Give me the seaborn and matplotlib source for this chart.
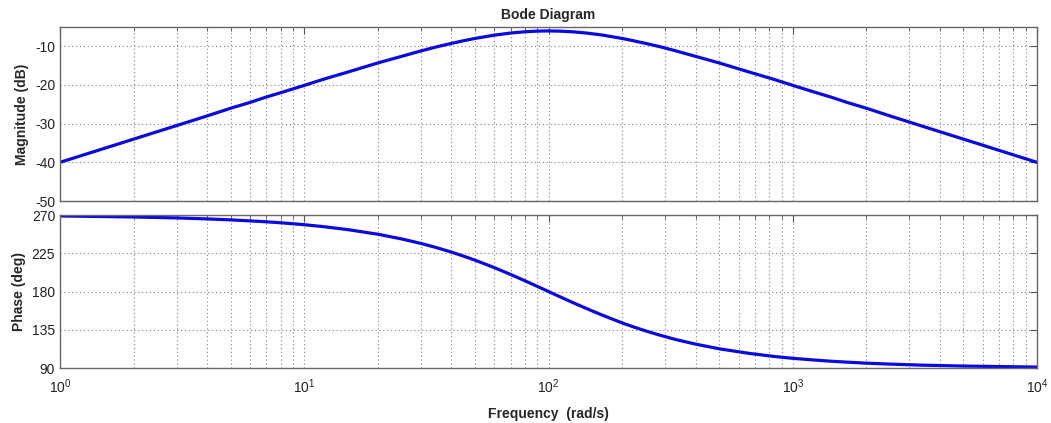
import numpy as np
import pandas as pd
import matplotlib
matplotlib.use("Agg")
import matplotlib.pyplot as plt
import matplotlib.ticker as mticker
import seaborn as sns

# values (frequency in rad/s)
freq = [1, 2, 3, 4, 5, 6, 7, 8, 10, 12, 15, 20, 25, 30, 35, 40, 45, 50,
        60, 70, 80, 90, 100, 111, 125, 143, 167, 200, 222, 250, 286, 333,
        400, 500, 667, 833, 1000, 1250, 1429, 1667, 2000, 2500, 3333,
        5000, 10000]
magnitude_db = [-40.0, -34.0, -30.5, -28.0, -26.0, -24.5, -23.1, -22.0,
                -20.1, -18.5, -16.7, -14.3, -12.6, -11.2, -10.1, -9.25,
                -8.54, -7.96, -7.11, -6.56, -6.24, -6.07, -6.02, -6.07,
                -6.24, -6.56, -7.11, -7.96, -8.54, -9.25, -10.1, -11.2,
                -12.6, -14.3, -16.7, -18.5, -20.1, -22.0, -23.1, -24.5,
                -26.0, -28.0, -30.5, -34.0, -40.0]
phase_deg = [268.9, 267.7, 266.6, 265.4, 264.3, 263.1, 262.0, 260.9,
             258.6, 256.3, 252.9, 247.4, 241.9, 236.6, 231.4, 226.4,
             221.5, 216.9, 208.1, 200.0, 192.7, 186.0, 180.0, 174.0,
             167.3, 160.0, 151.9, 143.1, 138.5, 133.6, 128.6, 123.4,
             118.1, 112.6, 107.1, 103.7, 101.4, 99.2, 98.0, 96.9,
             95.7, 94.6, 93.4, 92.3, 91.1]

mag_ticks = [-50, -40, -30, -20, -10]
phase_ticks = [90, 135, 180, 225, 270]

df = pd.DataFrame({"freq": freq, "mag": magnitude_db, "phase": phase_deg})

sns.set_style("white")
plt.rcParams["font.family"] = ["Liberation Sans", "DejaVu Sans"]
plt.rcParams["axes.unicode_minus"] = False

fig = plt.figure(figsize=(10.51, 4.23), dpi=100)
ax1 = fig.add_axes([0.0571, 0.5248, 0.9296, 0.4114])
ax2 = fig.add_axes([0.0571, 0.130, 0.9296, 0.3617])

line_color = "#0a0ae0"
sns.lineplot(data=df, x="freq", y="mag", ax=ax1, color=line_color, linewidth=2.3)
sns.lineplot(data=df, x="freq", y="phase", ax=ax2, color=line_color, linewidth=2.3)

for ax in (ax1, ax2):
    ax.set_xscale("log")
    ax.set_xlim(1, 1e4)
    ax.xaxis.set_major_locator(mticker.LogLocator(base=10, numticks=10))
    ax.xaxis.set_minor_locator(mticker.LogLocator(base=10, subs=np.arange(2, 10), numticks=20))
    ax.grid(True, which="major", linestyle=(0, (1, 2.5)), color="#808080", linewidth=0.8)
    ax.grid(True, which="minor", axis="x", linestyle=(0, (1, 2.5)), color="#808080", linewidth=0.8)
    ax.tick_params(which="both", direction="in", top=True, right=True, colors="#555555",
                   labelcolor="#222222", labelsize=10)
    ax.tick_params(which="major", length=5, width=0.8)
    ax.tick_params(which="minor", length=3, width=0.6)
    for s in ax.spines.values():
        s.set_color("#666666")
        s.set_linewidth(1.0)
    ax.set_xlabel("")

ax1.set_ylim(-50, -5)
ax1.set_yticks(mag_ticks)
ax1.tick_params(labelbottom=False)
ax1.set_ylabel("Magnitude (dB)", fontweight="bold", fontsize=10, labelpad=4)
ax1.set_title("Bode Diagram", fontweight="bold", fontsize=10, pad=6)

ax2.set_ylim(90, 270)
ax2.set_yticks(phase_ticks)
ax2.xaxis.set_major_formatter(mticker.LogFormatterSciNotation())
ax2.tick_params(axis="x", which="major", pad=7)
ax2.set_ylabel("Phase (deg)", fontweight="bold", fontsize=10, labelpad=4)
ax2.set_xlabel("Frequency  (rad/s)", fontweight="bold", fontsize=10, labelpad=8)

fig.savefig("out.png", dpi=100)
